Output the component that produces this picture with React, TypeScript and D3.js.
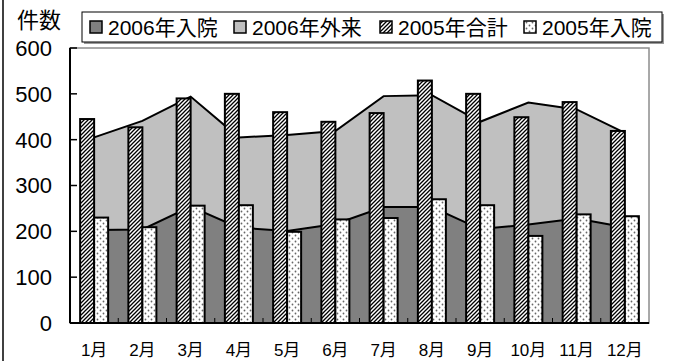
import React, { useEffect, useRef } from "react";
import * as d3 from "d3";

const months = ["1月", "2月", "3月", "4月", "5月", "6月", "7月", "8月", "9月", "10月", "11月", "12月"];
const inpatient2006 = [203, 204, 254, 208, 201, 216, 253, 253, 205, 215, 228, 209];
const outpatient2006 = [202, 237, 240, 197, 209, 203, 242, 244, 234, 266, 238, 206];
const total2005 = [445, 427, 490, 500, 460, 439, 458, 529, 500, 449, 482, 419];
const inpatient2005 = [230, 209, 256, 257, 199, 226, 229, 270, 257, 190, 237, 233];
const yTicks = [0, 100, 200, 300, 400, 500, 600];
const legendLabels = ["2006年入院", "2006年外来", "2005年合計", "2005年入院"];

const FONT = '"Liberation Sans", "Noto Sans CJK JP", sans-serif';

const ComboChart = () => {
  const chartRef = useRef<SVGSVGElement>(null);

  useEffect(() => {
    if (!chartRef.current) return;
    const svg = d3.select(chartRef.current);
    svg.selectAll("*").remove();

    const plot = { left: 70, right: 649, top: 48, bottom: 323 };

    const x = d3.scaleBand<string>().domain(months).range([plot.left, plot.right]);
    const y = d3.scaleLinear().domain([0, 600]).range([plot.bottom, plot.top]);
    const cx = (m: string) => (x(m) as number) + x.bandwidth() / 2;
    const barW = 14;

    // fill patterns
    const defs = svg.append("defs");
    const hatch = defs
      .append("pattern")
      .attr("id", "hatch")
      .attr("patternUnits", "userSpaceOnUse")
      .attr("width", 4)
      .attr("height", 4);
    hatch.append("rect").attr("width", 4).attr("height", 4).attr("fill", "#fff");
    hatch
      .append("path")
      .attr("d", "M-1,1 l2,-2 M0,4 l4,-4 M3,5 l2,-2")
      .attr("stroke", "#000")
      .attr("stroke-width", 1.3);

    const dots = defs
      .append("pattern")
      .attr("id", "dots")
      .attr("patternUnits", "userSpaceOnUse")
      .attr("width", 6)
      .attr("height", 6);
    dots.append("rect").attr("width", 6).attr("height", 6).attr("fill", "#fff");
    dots.append("circle").attr("cx", 1.5).attr("cy", 1.5).attr("r", 0.9).attr("fill", "#666");
    dots.append("circle").attr("cx", 4.5).attr("cy", 4.5).attr("r", 0.9).attr("fill", "#666");

    // outer frame (only left edge is visible)
    svg.append("line").attr("x1", 3).attr("x2", 3).attr("y1", 0).attr("y2", 361)
      .attr("stroke", "#000").attr("stroke-width", 1.5);

    // plot area
    svg.append("rect")
      .attr("x", plot.left).attr("y", plot.top)
      .attr("width", plot.right - plot.left).attr("height", plot.bottom - plot.top)
      .attr("fill", "#fff").attr("stroke", "#8c8c8c").attr("stroke-width", 1.5);

    // stacked areas for 2006
    const rows = months.map((m, i) => ({ month: m, inp: inpatient2006[i], out: outpatient2006[i] }));
    const stack = d3.stack<any>().keys(["inp", "out"])(rows);
    const area = d3.area<any>()
      .x((d) => cx(d.data.month))
      .y0((d) => y(d[0]))
      .y1((d) => y(d[1]));
    const topLine = d3.line<any>()
      .x((d) => cx(d.data.month))
      .y((d) => y(d[1]));
    const areaFills = ["#808080", "#c0c0c0"];

    [1, 0].forEach((k) => {
      svg.append("path").datum(stack[k]).attr("d", area).attr("fill", areaFills[k]);
      svg.append("path").datum(stack[k]).attr("d", topLine)
        .attr("fill", "none").attr("stroke", "#000").attr("stroke-width", 2);
    });

    // bars for 2005
    const g = svg.append("g");
    g.selectAll(".bar-total")
      .data(total2005)
      .enter()
      .append("rect")
      .attr("x", (_d, i) => cx(months[i]) - barW)
      .attr("y", (d) => y(d))
      .attr("width", barW)
      .attr("height", (d) => y(0) - y(d))
      .attr("fill", "url(#hatch)")
      .attr("stroke", "#000")
      .attr("stroke-width", 2);

    g.selectAll(".bar-inp")
      .data(inpatient2005)
      .enter()
      .append("rect")
      .attr("x", (_d, i) => cx(months[i]))
      .attr("y", (d) => y(d))
      .attr("width", barW)
      .attr("height", (d) => y(0) - y(d))
      .attr("fill", "url(#dots)")
      .attr("stroke", "#000")
      .attr("stroke-width", 2);

    // axes
    svg.append("line").attr("x1", plot.left).attr("x2", plot.left)
      .attr("y1", plot.top).attr("y2", plot.bottom).attr("stroke", "#000").attr("stroke-width", 2);
    svg.append("line").attr("x1", plot.left).attr("x2", plot.right)
      .attr("y1", plot.bottom).attr("y2", plot.bottom).attr("stroke", "#000").attr("stroke-width", 2);

    yTicks.forEach((t) => {
      svg.append("line").attr("x1", plot.left).attr("x2", plot.left + 7)
        .attr("y1", y(t)).attr("y2", y(t)).attr("stroke", "#000").attr("stroke-width", 1.5);
      svg.append("text").attr("x", 52).attr("y", y(t)).attr("dy", "0.36em")
        .attr("text-anchor", "end").attr("font-size", 22).attr("font-family", FONT)
        .text(t);
    });

    months.forEach((m, i) => {
      if (i > 0) {
        svg.append("line").attr("x1", x(m) as number).attr("x2", x(m) as number)
          .attr("y1", plot.bottom).attr("y2", plot.bottom - 5)
          .attr("stroke", "#000").attr("stroke-width", 1);
      }
      svg.append("text").attr("x", cx(m)).attr("y", 350).attr("dy", "0.36em")
        .attr("text-anchor", "middle").attr("font-size", 17).attr("font-family", FONT)
        .text(m);
    });

    // axis title
    svg.append("text").attr("x", 17).attr("y", 20).attr("dy", "0.36em")
      .attr("font-size", 22).attr("font-family", FONT).text("件数");

    // legend
    svg.append("rect").attr("x", 84).attr("y", 14).attr("width", 580).attr("height", 30)
      .attr("fill", "#999");
    svg.append("rect").attr("x", 82).attr("y", 12).attr("width", 580).attr("height", 30)
      .attr("fill", "#fff").attr("stroke", "#000").attr("stroke-width", 1);
    const legendFills = ["#808080", "#c0c0c0", "url(#hatch)", "url(#dots)"];
    const legendX = [90, 234, 380, 524];
    legendLabels.forEach((label, i) => {
      svg.append("rect").attr("x", legendX[i]).attr("y", 21).attr("width", 12).attr("height", 12)
        .attr("fill", legendFills[i]).attr("stroke", "#000").attr("stroke-width", 1.5);
      svg.append("text").attr("x", legendX[i] + 18).attr("y", 27).attr("dy", "0.36em")
        .attr("font-size", 21).attr("font-family", FONT).text(label);
    });
  }, []);

  return (
    <svg
      ref={chartRef}
      width="676"
      height="361"
      style={{ position: "absolute", left: 0, top: 0, background: "#fff" }}
    ></svg>
  );
};

function App() {
  return <ComboChart />;
}

export default App;
